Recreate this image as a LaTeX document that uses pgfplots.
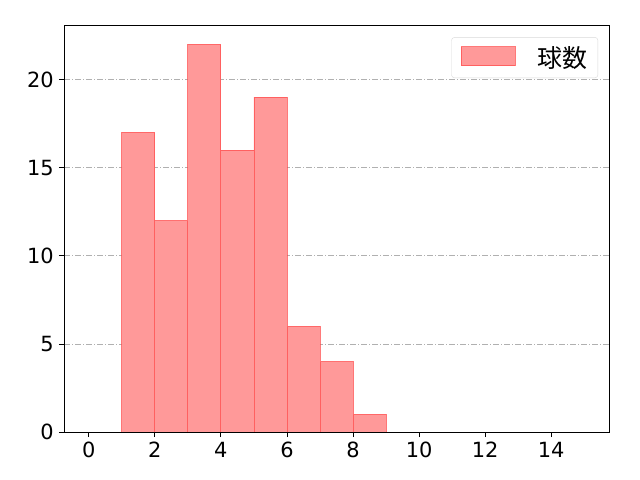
\documentclass[border=0pt]{standalone}
\usepackage{fontspec}
\setmainfont{Noto Sans CJK JP}
\newfontfamily\tickfont{DejaVu Sans}
\usepackage{pgfplots}
\pgfplotsset{compat=1.18}
\definecolor{barfill}{HTML}{FF9999}
\definecolor{baredge}{HTML}{FF4D4D}
\definecolor{gridc}{HTML}{B0B0B0}
\begin{document}
\begin{tikzpicture}[x=1bp,y=1bp]
\path[use as bounding box] (-64bp,-48bp) rectangle (576bp,432bp);
\begin{axis}[
  at={(0,0)}, anchor=south west,
  scale only axis,
  width=545bp, height=407bp,
  xmin=-0.75, xmax=15.75,
  ymin=0, ymax=23.1,
  xtick={0,2,...,14},
  ytick={0,5,10,15,20},
  tick align=outside,
  tick pos=left,
  major tick length=5bp,
  tick style={black, line width=0.8bp},
  axis line style={line width=0.8bp},
  ymajorgrids=true,
  major grid style={gridc, line width=0.8bp, dash pattern=on 6bp off 2bp on 1bp off 2bp},
  /pgf/number format/assume math mode=true,
  ticklabel style={font=\tickfont\fontsize{21}{24}\selectfont, inner sep=5bp},
  legend style={at={(0.98,0.97)}, anchor=north east, draw=black!15, rounded corners=3bp,
    font=\fontsize{25}{28}\selectfont, inner xsep=9bp, inner ysep=7bp},
  legend image code/.code={\fill[barfill, draw=baredge, line width=0.6bp, sharp corners] (1bp,-8bp) rectangle (55bp,11bp);},
  legend cell align=left,
]
\addplot[ybar interval, fill=barfill, draw=baredge, line width=0.8bp, draw opacity=0.75]
  coordinates {(1,17) (2,12) (3,22) (4,16) (5,19) (6,6) (7,4) (8,1) (9,1)};
\addlegendentry{\hspace{20bp}球数\hspace{6bp}}
\end{axis}
\end{tikzpicture}
\end{document}
